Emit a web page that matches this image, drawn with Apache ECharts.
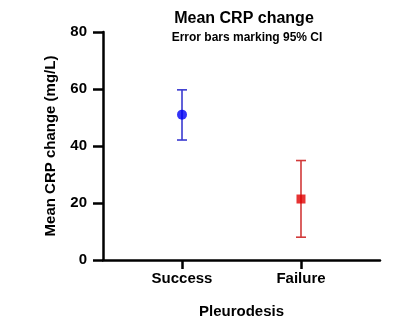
<!DOCTYPE html>
<html>
<head>
<meta charset="utf-8">
<script src="https://cdn.jsdelivr.net/npm/echarts@6/dist/echarts.min.js"></script>
<style>
  html, body { margin: 0; padding: 0; background: #fff; }
  #chart { width: 402px; height: 325px; }
</style>
</head>
<body>
<div id="chart"></div>
<script>
// Mean CRP change by pleurodesis outcome, with 95% confidence intervals
const categories = ['Success', 'Failure'];
const means = [51.0, 21.4];
const ciLower = [42.1, 8.0];
const ciUpper = [59.7, 34.9];
const yTicks = [0, 20, 40, 60, 80];

const markerColors = ['#0000f5', '#e00000'];
const barColors = ['#3a3ad0', '#d23a3a'];
const markerShapes = ['circle', 'rect'];
const markerSizes = [10, 9];

const FONT = '"Liberation Sans", Arial, Helvetica, sans-serif';

const chart = echarts.init(document.getElementById('chart'), null, { renderer: 'canvas' });

const errorData = categories.map((c, i) => [i, ciLower[i], ciUpper[i]]);
const meanData = categories.map((c, i) => ({
  value: [i, means[i]],
  symbol: markerShapes[i],
  symbolSize: markerSizes[i],
  itemStyle: { color: markerColors[i] }
}));

const option = {
  animation: false,
  backgroundColor: '#ffffff',
  title: [
    {
      text: 'Mean CRP change',
      left: 239, top: 6, textAlign: 'center',
      textStyle: { fontFamily: FONT, fontWeight: 'bold', fontSize: 16, color: '#000' }
    },
    {
      text: 'Error bars marking 95% CI',
      left: 242, top: 27, textAlign: 'center',
      textStyle: { fontFamily: FONT, fontWeight: 'bold', fontSize: 12, color: '#000' }
    }
  ],
  grid: { left: 103, right: 22, top: 32, bottom: 65, containLabel: false },
  xAxis: {
    type: 'value',
    min: -0.664,
    max: 1.664,
    name: 'Pleurodesis',
    nameLocation: 'middle',
    nameGap: 44,
    nameTextStyle: { fontFamily: FONT, fontWeight: 'bold', fontSize: 15, color: '#000' },
    splitLine: { show: false },
    axisLine: { show: true, onZero: false, lineStyle: { color: '#000', width: 2.5 } },
    axisTick: { show: true, customValues: [0, 1], length: 9, lineStyle: { color: '#000', width: 2.5 } },
    axisLabel: {
      customValues: [0, 1],
      margin: 11,
      formatter: v => categories[Math.round(v)] || '',
      fontFamily: FONT, fontWeight: 'bold', fontSize: 15, color: '#000'
    }
  },
  yAxis: {
    type: 'value',
    min: 0,
    max: 80,
    interval: 20,
    name: 'Mean CRP change (mg/L)',
    nameLocation: 'middle',
    nameGap: 45,
    nameTextStyle: { fontFamily: FONT, fontWeight: 'bold', fontSize: 15, color: '#000' },
    splitLine: { show: false },
    axisLine: { show: true, onZero: false, lineStyle: { color: '#000', width: 2.5 } },
    axisTick: { show: true, length: 10, lineStyle: { color: '#000', width: 2.5 } },
    axisLabel: {
      margin: 16,
      formatter: v => (yTicks.indexOf(v) >= 0 ? String(v) : ''),
      fontFamily: FONT, fontWeight: 'bold', fontSize: 15, color: '#000'
    }
  },
  series: [
    {
      type: 'custom',
      data: errorData,
      z: 2,
      renderItem: function (params, api) {
        const i = api.value(0);
        const lo = api.coord([i, api.value(1)]);
        const hi = api.coord([i, api.value(2)]);
        const half = 5;
        const style = { stroke: barColors[params.dataIndex], lineWidth: 1.6, fill: null };
        return {
          type: 'group',
          children: [
            { type: 'line', shape: { x1: lo[0], y1: lo[1], x2: hi[0], y2: hi[1] }, style },
            { type: 'line', shape: { x1: hi[0] - half, y1: hi[1], x2: hi[0] + half, y2: hi[1] }, style },
            { type: 'line', shape: { x1: lo[0] - half, y1: lo[1], x2: lo[0] + half, y2: lo[1] }, style }
          ]
        };
      }
    },
    {
      type: 'scatter',
      data: meanData,
      z: 3
    }
  ]
};

chart.setOption(option);
</script>
</body>
</html>
